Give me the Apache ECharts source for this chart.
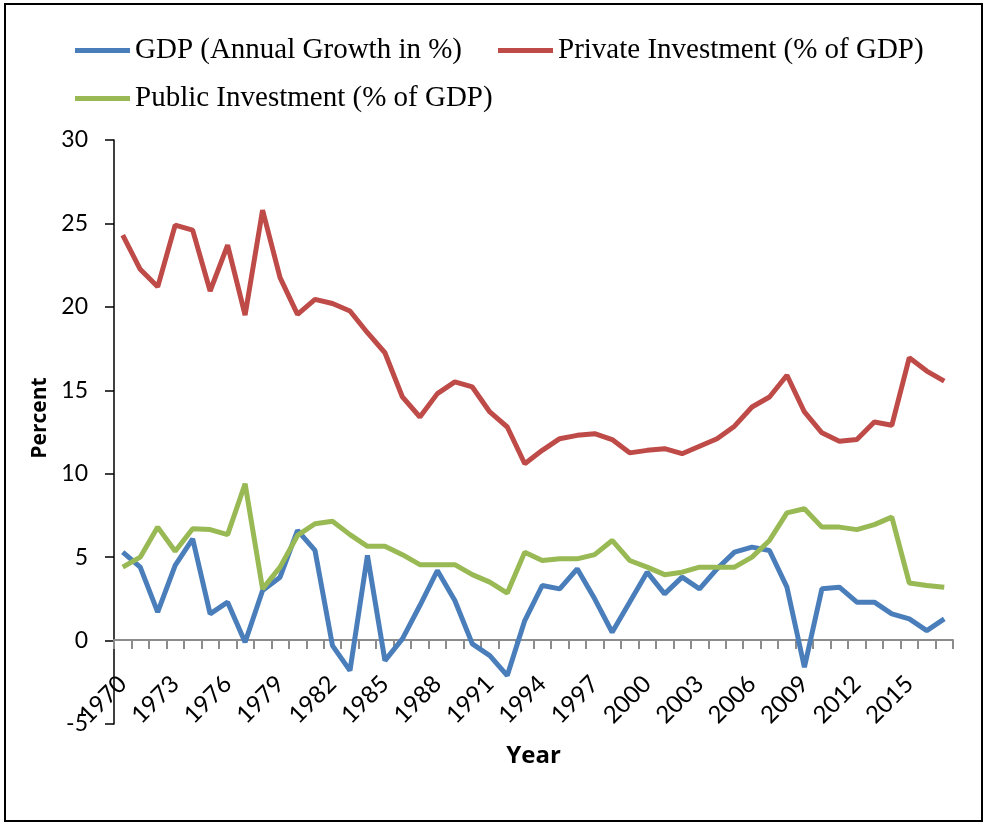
<!DOCTYPE html>
<html>
<head>
<meta charset="utf-8">
<script src="https://cdn.jsdelivr.net/npm/echarts@6/dist/echarts.min.js"></script>
<style>
html,body{margin:0;padding:0;background:#fff;}
#chart{width:986px;height:824px;}
</style>
</head>
<body>
<div id="chart"></div>
<script>
const years = ['1970','1971','1972','1973','1974','1975','1976','1977','1978','1979','1980','1981','1982','1983','1984','1985','1986','1987','1988','1989','1990','1991','1992','1993','1994','1995','1996','1997','1998','1999','2000','2001','2002','2003','2004','2005','2006','2007','2008','2009','2010','2011','2012','2013','2014','2015','2016','2017'];
const gdpGrowth = [5.3,4.4,1.7,4.5,6.1,1.6,2.3,-0.1,3.0,3.8,6.6,5.4,-0.3,-1.8,5.1,-1.2,0.1,2.1,4.2,2.4,-0.2,-0.9,-2.1,1.2,3.3,3.1,4.3,2.5,0.5,2.3,4.1,2.8,3.8,3.1,4.3,5.3,5.6,5.4,3.2,-1.6,3.1,3.2,2.3,2.3,1.6,1.3,0.6,1.3];
const privateInv = [24.3,22.25,21.2,24.9,24.6,20.95,23.7,19.5,25.8,21.75,19.55,20.45,20.2,19.75,18.45,17.25,14.6,13.4,14.8,15.5,15.2,13.7,12.8,10.6,11.4,12.1,12.3,12.4,12.05,11.25,11.4,11.5,11.2,11.65,12.1,12.85,14.0,14.6,15.9,13.7,12.45,11.95,12.05,13.1,12.9,16.95,16.15,15.55];
const publicInv = [4.4,5.0,6.8,5.35,6.7,6.65,6.35,9.4,3.1,4.4,6.3,7.0,7.15,6.35,5.65,5.65,5.15,4.55,4.55,4.55,3.95,3.5,2.85,5.3,4.8,4.9,4.9,5.15,6.0,4.8,4.4,3.95,4.1,4.4,4.4,4.4,5.0,6.0,7.65,7.9,6.8,6.8,6.65,6.95,7.4,3.45,3.3,3.2];
const seriesNames = ['GDP (Annual Growth in %)','Private Investment (% of GDP)','Public Investment (% of GDP)'];
const colors = ['#4A7EBB','#BE4B48','#98B954'];

const chart = echarts.init(document.getElementById('chart'));
const legendText = {fontFamily:'Liberation Serif', fontSize:29, color:'#000'};
chart.setOption({
  animation:false,
  color:colors,
  graphic:[{type:'rect', shape:{x:5,y:4,width:977,height:817}, style:{fill:'none', stroke:'#000', lineWidth:2}, silent:true}],
  legend:[
    {data:[seriesNames[0],seriesNames[1]], left:70, top:31, icon:'rect', itemWidth:55, itemHeight:5, itemGap:36, textStyle:legendText},
    {data:[seriesNames[2]], left:70, top:79, icon:'rect', itemWidth:55, itemHeight:5, textStyle:legendText}
  ],
  grid:[
    {left:114, right:33, top:140, bottom:100, outerBoundsMode:'none'},
    {left:114, right:33, top:140, bottom:184, outerBoundsMode:'none'}
  ],
  xAxis:[
    {type:'category', data:years, boundaryGap:true, gridIndex:0, show:false},
    {
      type:'category', data:years, boundaryGap:true, gridIndex:1,
      name:'Year', nameLocation:'middle', nameGap:104,
      nameTextStyle:{fontFamily:'Open Sans', fontWeight:'bold', fontSize:24, color:'#000'},
      axisLine:{show:true, onZero:false, lineStyle:{color:'#8c8c8c', width:2}},
      axisTick:{show:true, interval:0, length:9, lineStyle:{color:'#8c8c8c', width:2}},
      axisLabel:{interval:2, rotate:45, margin:40, fontFamily:'Lato', fontSize:24, color:'#000'}
    }
  ],
  yAxis:[
    {
      type:'value', min:-5, max:30, interval:5, gridIndex:0,
      name:'Percent', nameLocation:'middle', nameGap:52, nameRotate:90,
      nameTextStyle:{fontFamily:'Open Sans', fontWeight:'bold', fontSize:21, color:'#000', padding:[0,0,0,28]},
      splitLine:{show:false},
      axisLine:{show:true, lineStyle:{color:'#000', width:1.5}},
      axisTick:{show:true, length:9, lineStyle:{color:'#000', width:1.5}},
      axisLabel:{margin:26, fontFamily:'Lato', fontSize:23, color:'#000'}
    },
    {type:'value', min:0, max:30, gridIndex:1, show:false}
  ],
  series:[
    {name:seriesNames[0], type:'line', data:gdpGrowth, symbol:'none', lineStyle:{width:5, color:colors[0]}},
    {name:seriesNames[1], type:'line', data:privateInv, symbol:'none', lineStyle:{width:5, color:colors[1]}},
    {name:seriesNames[2], type:'line', data:publicInv, symbol:'none', lineStyle:{width:5, color:colors[2]}}
  ]
});
</script>
</body>
</html>
